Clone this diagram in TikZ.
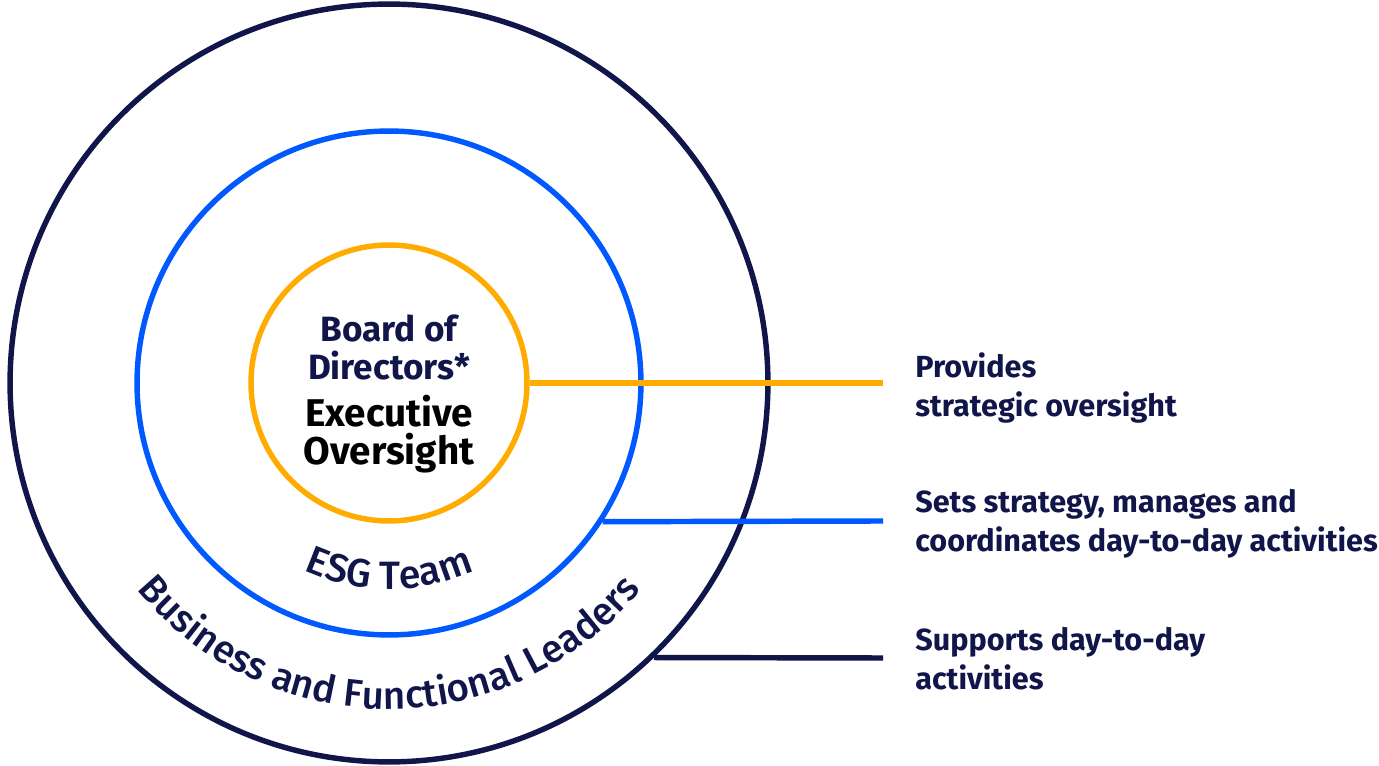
\documentclass[tikz,border=0pt]{standalone}
\usepackage{fontspec}
\setmainfont{Fira Sans}
\newfontfamily\medfont{Fira Sans Medium}
\usetikzlibrary{positioning}
\usetikzlibrary{decorations.text}

\definecolor{navy}{RGB}{17,22,74}
\definecolor{esgblue}{RGB}{0,88,255}
\definecolor{gold}{RGB}{255,171,0}

\begin{document}
\begin{tikzpicture}[x=0.02cm,y=0.02cm,
  ring/.style={draw,circle,line width=3.1pt,inner sep=0pt},
  link/.style={line width=3.1pt},
  desc/.style={anchor=west,align=left,inner sep=0pt,text=navy,
    font=\fontsize{17.4}{22.2}\selectfont\bfseries}]
\useasboundingbox (-389,-383) rectangle (990,383);
% the three rings
\node[ring,navy,minimum size=15.16cm] (leaders) at (0,0) {};
\node[ring,esgblue,minimum size=10.08cm] (esg) at (0,0) {};
\node[ring,gold,minimum size=5.52cm] (board) at (0,0) {};
\node[align=center,text=navy,font=\fontsize{20}{21.5}\selectfont\bfseries] (boardtxt) at (0,-11)
  {Board of\\Directors*\\[0.2cm]\fontsize{22}{21.5}\selectfont\color{black}Executive\\\fontsize{22}{21.5}\selectfont\color{black}Oversight};
% curved labels
\path[decorate,decoration={text along path,text align=center,text color=navy,
  text={|\medfont\fontsize{22.5}{24}\selectfont|ESG Team}}]
  (200:206) arc[start angle=200,end angle=340,radius=206];
\path[decorate,decoration={text along path,text align=center,text color=navy,
  text={|\medfont\fontsize{22}{24}\selectfont|Business and Functional Leaders}}]
  (185:326) arc[start angle=185,end angle=355,radius=326];
% connectors
\coordinate (oEnd) at (494,0);
\coordinate (bEnd) at (494,-138);
\coordinate (nEnd) at (494,-275);
\draw[link,gold] (board.east) -- (oEnd);
\draw[link,esgblue] (esg.-33.2) -- (bEnd);
\draw[link,navy] (leaders.-46.5) -- (nEnd);
\node[desc,right=6.4mm of oEnd,yshift=-0.1cm] (provides) {Provides\\strategic oversight};
\node[desc,right=6.4mm of bEnd,yshift=-0.05cm] (sets) {Sets strategy, manages and\\coordinates day-to-day activities};
\node[desc,right=6.4mm of nEnd,yshift=-0.02cm] (supports) {Supports day-to-day\\activities};
\end{tikzpicture}
\end{document}
